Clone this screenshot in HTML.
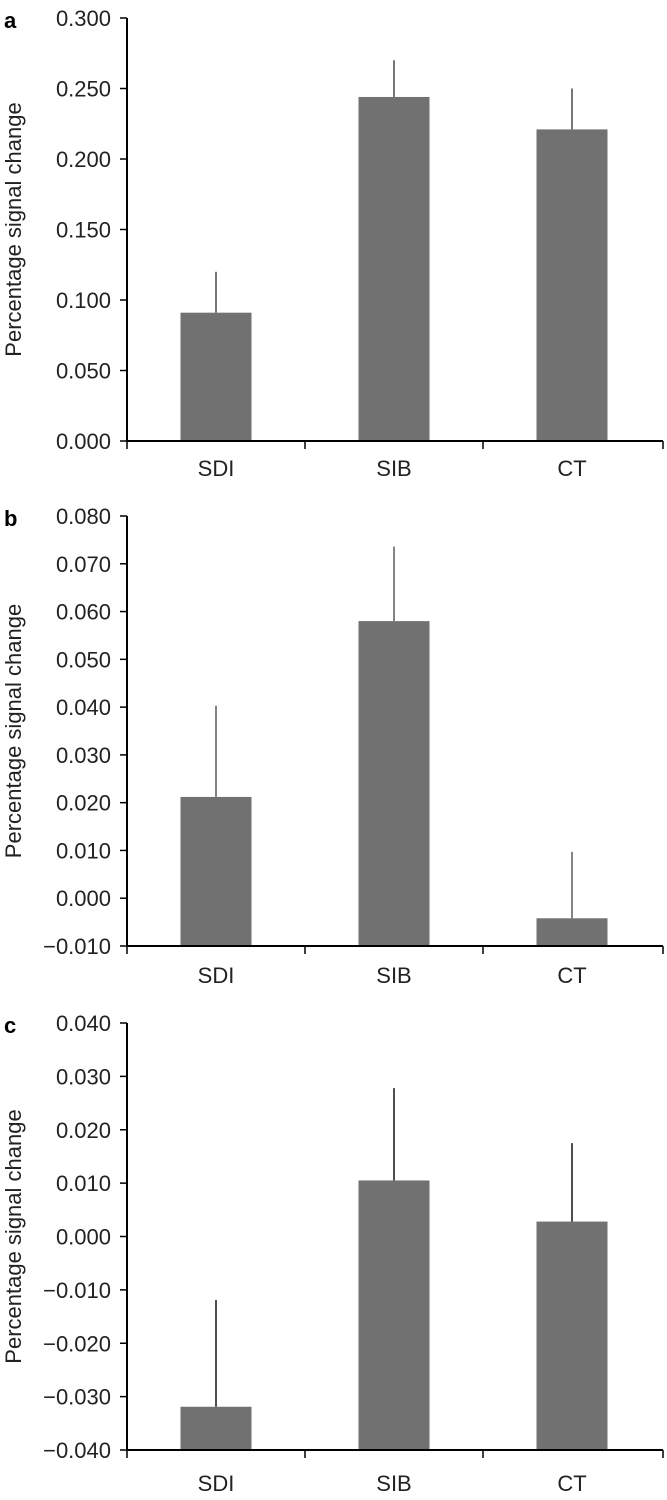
<!DOCTYPE html>
<html><head><meta charset="utf-8"><style>
html,body{margin:0;padding:0;background:#fff;}
svg text{font-family:"Liberation Sans",Arial,sans-serif;}
</style></head><body>
<svg id="chart" width="667" height="1495" viewBox="0 0 667 1495" xmlns="http://www.w3.org/2000/svg"></svg>
<script>
const categories = ["SDI","SIB","CT"];
const valuesA = [0.091, 0.244, 0.221];
const errTopA = [0.120, 0.270, 0.250];
const ticksA = ["0.000","0.050","0.100","0.150","0.200","0.250","0.300"];
const valuesB = [0.0212, 0.058, -0.0042];
const errTopB = [0.0403, 0.0736, 0.0097];
const ticksB = ["\u22120.010","0.000","0.010","0.020","0.030","0.040","0.050","0.060","0.070","0.080"];
const valuesC = [-0.0319, 0.0105, 0.0028];
const errTopC = [-0.0119, 0.0278, 0.0175];
const ticksC = ["\u22120.040","\u22120.030","\u22120.020","\u22120.010","0.000","0.010","0.020","0.030","0.040"];

const NS = "http://www.w3.org/2000/svg";
const svg = document.getElementById("chart");
function mk(tag, attrs, parent){
  const e = document.createElementNS(NS, tag);
  for (const k in attrs) e.setAttribute(k, attrs[k]);
  (parent||svg).appendChild(e);
  return e;
}
function panel(letter, tickLabels, vmin, vmax, values, errs, yTop, yBot, labelY, errColor){
  const g = mk("g", {});
  
  
  const x0 = 127, x1 = 663;
  const y = v => yBot - (v - vmin) / (vmax - vmin) * (yBot - yTop);
  const catW = (x1 - 2 - x0) / categories.length;
  const xc = i => x0 + catW * (i + 0.5);
  const barW = 71;
  const lt = mk("text", {x:4, y:yTop+10, "font-size":22, "font-weight":"bold", fill:"#000"}, g);
  lt.textContent = letter;
  
  
  const mid = (yTop + yBot) / 2;
  const yt = mk("text", {x:0, y:0, "font-size":22, fill:"#222", "text-anchor":"middle", transform:"translate(21,"+mid+") rotate(-90)"}, g);
  yt.textContent = "Percentage signal change";
  
  
  values.forEach((v, i) => {
    const top = y(v);
    const b = mk("rect", {x:xc(i)-barW/2, y:top, width:barW, height:yBot-top, fill:"#717171"}, g);
    
    
    const e = mk("line", {x1:xc(i), x2:xc(i), y1:top, y2:y(errs[i]), stroke:errColor, "stroke-width":1.6}, g);
    
    
  });
  const ya = mk("line", {x1:x0, x2:x0, y1:yTop, y2:yBot, stroke:"#000", "stroke-width":2}, g);
  
  
  tickLabels.forEach((t, i) => {
    const v = vmin + i * (vmax - vmin) / (tickLabels.length - 1);
    const ty = y(v);
    mk("line", {x1:x0-7, x2:x0, y1:ty, y2:ty, stroke:"#000", "stroke-width":1.5}, g);
    const tx = mk("text", {x:x0-16, y:ty+8, "font-size":22, fill:"#222", "text-anchor":"end"}, g);
    tx.textContent = t;
    
    
  });
  const xa = mk("line", {x1:x0, x2:x1, y1:yBot, y2:yBot, stroke:"#000", "stroke-width":2}, g);
  
  
  for (let i = 0; i <= categories.length; i++){
    const tx = x0 + catW * i + (i === categories.length ? 2 : 0);
    mk("line", {x1:tx, x2:tx, y1:yBot, y2:yBot+8, stroke:"#000", "stroke-width":1.5}, g);
  }
  categories.forEach((c, i) => {
    const t = mk("text", {x:xc(i), y:labelY, "font-size":22, fill:"#222", "text-anchor":"middle"}, g);
    t.textContent = c;
    
    
  });
}
panel("a", ticksA, 0, 0.3, valuesA, errTopA, 18, 441, 476, "#555");
panel("b", ticksB, -0.01, 0.08, valuesB, errTopB, 516, 946, 983, "#666");
panel("c", ticksC, -0.04, 0.04, valuesC, errTopC, 1023, 1450, 1491, "#222");
</script>
</body></html>
